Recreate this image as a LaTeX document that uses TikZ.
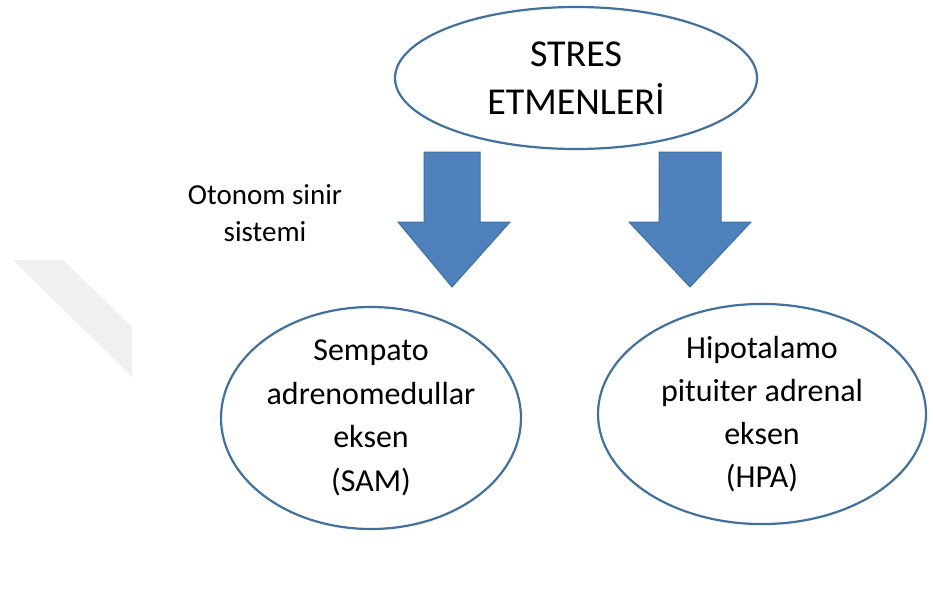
\documentclass[tikz,border=0pt]{standalone}
\usepackage{fontspec}
\setmainfont{Carlito}
\usetikzlibrary{shapes.geometric}
\definecolor{edgeblue}{HTML}{41719C}
\definecolor{fillblue}{HTML}{4F81BD}
\definecolor{wmgray}{HTML}{F0F0F0}
\tikzset{
  oval/.style={ellipse, draw=edgeblue, line width=2.2pt, fill=white, inner sep=0pt, align=center, text=black},
  blockarrow/.style={fill=fillblue, draw=edgeblue, line width=1pt, line join=miter},
  plainlabel/.style={inner sep=0pt, align=center, text=black}
}
\begin{document}
\begin{tikzpicture}[x=1pt, y=-1pt]
\useasboundingbox (0,0) rectangle (933,595);
\fill[white] (0,0) rectangle (933,595);
% watermark stripe
\fill[wmgray] (13,260) -- (63,260) -- (132,327) -- (132,377) -- cycle;
% top ellipse
\node[oval, minimum width=362pt, minimum height=142pt,
      font=\fontsize{38}{48}\selectfont] (stres) at (576,78) {STRES\\ETMENLERİ};
% block arrows
\draw[blockarrow] (424,152) -- (480,152) -- (480,222) -- (510,222) -- (452,287)
   -- (398,222) -- (424,222) -- cycle;
\draw[blockarrow] (659,152) -- (721,152) -- (721,222) -- (751,222) -- (690,287)
   -- (629,222) -- (659,222) -- cycle;
% label
\node[plainlabel, font=\fontsize{29}{37}\selectfont] (ans) at (265,213) {Otonom sinir\\sistemi};
% bottom ellipses
\node[oval, minimum width=300pt, minimum height=222pt,
      font=\fontsize{32}{43.5}\selectfont] (sam) at (371,418)
  {Sempato\\adrenomedullar\\eksen\\(SAM)};
\node[oval, minimum width=328pt, minimum height=212pt,
      font=\fontsize{32}{43}\selectfont] (hpa) at (762,414)
  {Hipotalamo\\pituiter\ adrenal\\eksen\\(HPA)};
\end{tikzpicture}
\end{document}
